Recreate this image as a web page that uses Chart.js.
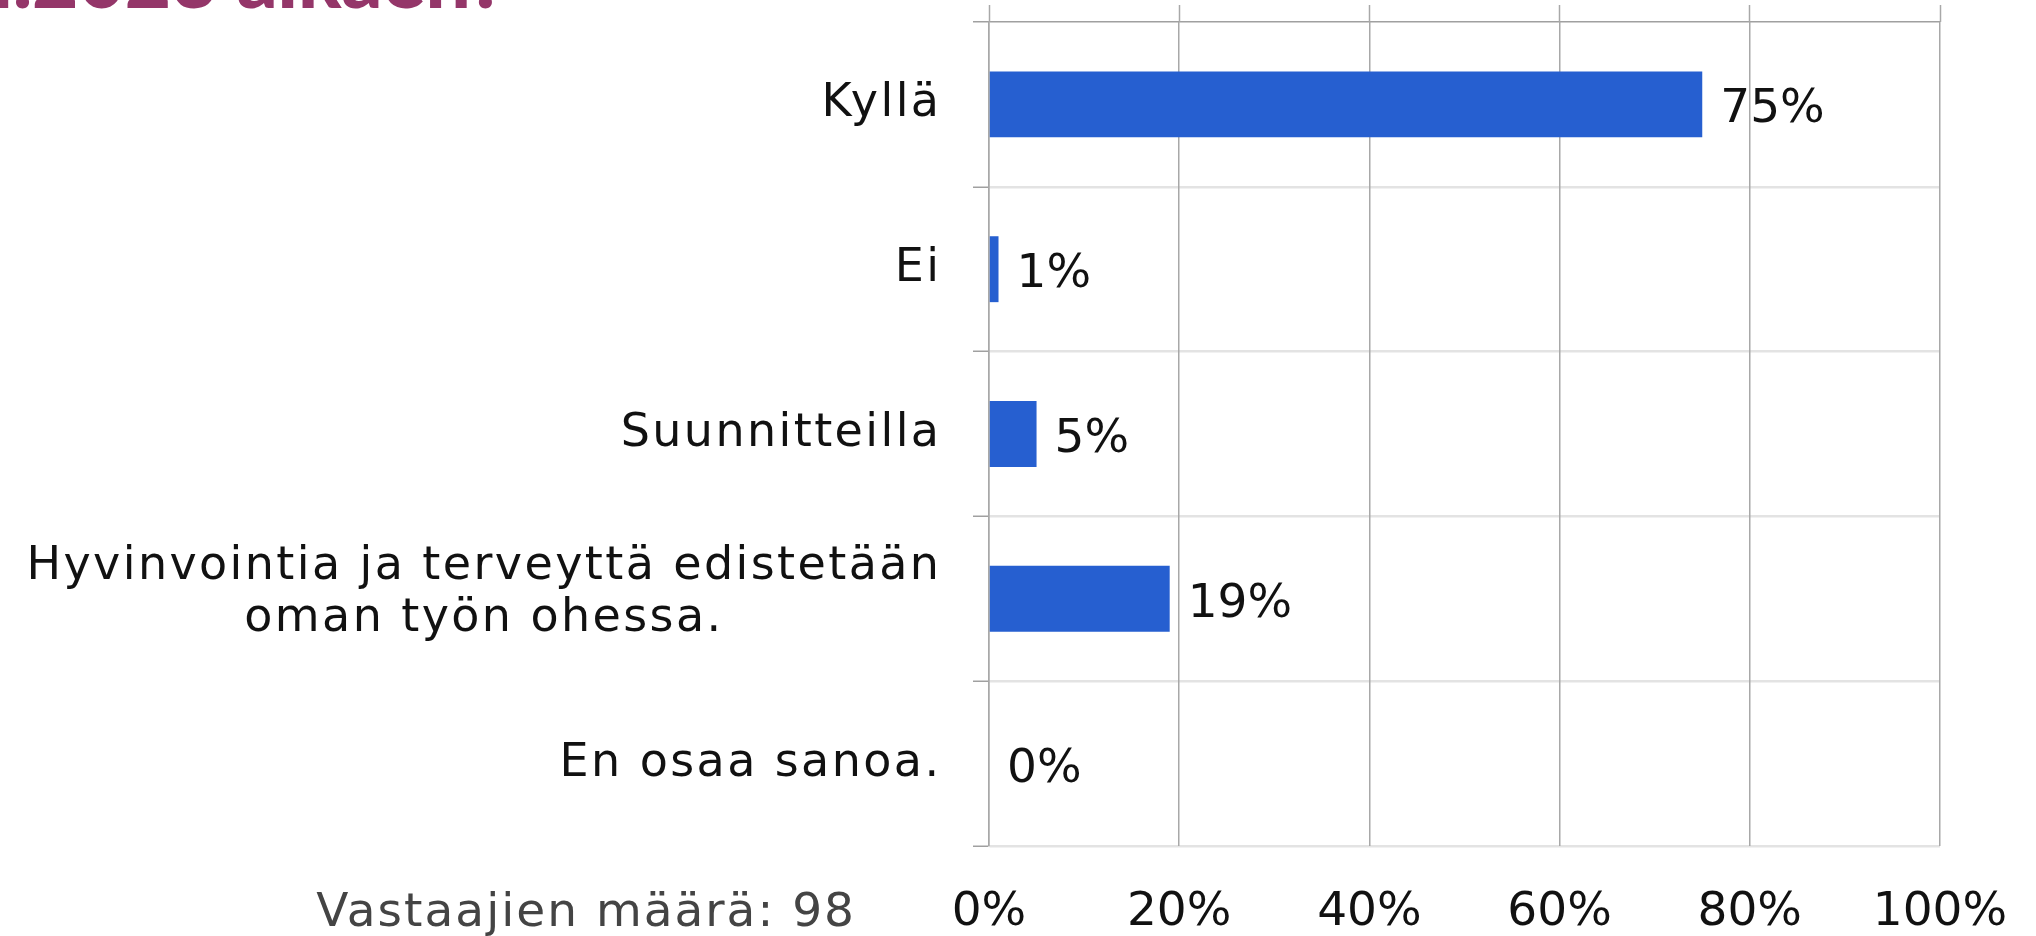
<!DOCTYPE html>
<html>
<head>
<meta charset="utf-8">
<script src="https://cdn.jsdelivr.net/npm/chart.js@4/dist/chart.umd.min.js"></script>
<style>
	body { margin: 0; background: #fff; overflow: hidden; }
	#wrap { position: relative; width: 2036px; height: 936px; overflow: hidden; }
	#title {
		position: absolute; right: 1530px; top: -63px; white-space: nowrap;
		font: 900 80px/80px Lato, sans-serif; color: #943669;
	}
	#note {
		position: absolute; right: 1180px; top: 886px; white-space: nowrap;
		font: 47px/47px "DejaVu Sans", sans-serif; letter-spacing: 2px; color: #444;
	}
</style>
</head>
<body>
<div id="wrap">
	<canvas id="chartContainer"></canvas>
	<div id="title">1.1.2023 alkaen?</div>
	<div id="note">Vastaajien määrä: 98</div>
</div>
<script>
var categories = ["Kyllä", "Ei", "Suunnitteilla", ["Hyvinvointia ja terveyttä edistetään", "oman työn ohessa."], "En osaa sanoa."];
var values = [75, 1, 5, 19, 0];
var xTicks = [0, 20, 40, 60, 80, 100];

var font = "'DejaVu Sans', sans-serif";

// category names on the left, multi-line ones centered on their widest line
const categoryLabels = {
	id: "categoryLabels",
	afterDraw(chart) {
		const ctx = chart.ctx;
		const y = chart.scales.y;
		const sp = 2.4;
		const right = chart.chartArea.left - 50 + sp;
		ctx.save();
		ctx.letterSpacing = sp + "px";
		ctx.font = "46px " + font;
		ctx.fillStyle = "#111";
		ctx.textBaseline = "alphabetic";
		categories.forEach((label, i) => {
			const cy = y.getPixelForTick(i);
			if (Array.isArray(label)) {
				const w = Math.max(...label.map((l) => ctx.measureText(l).width));
				ctx.textAlign = "center";
				label.forEach((l, j) => ctx.fillText(l, right - w / 2, cy - 20 + j * 52));
			} else {
				ctx.textAlign = "right";
				ctx.fillText(label, right, cy + 12);
			}
		});
		ctx.restore();
	},
};

// percentages at the end of each bar
const valueLabels = {
	id: "valueLabels",
	afterDatasetsDraw(chart) {
		const ctx = chart.ctx;
		ctx.save();
		ctx.font = "47px " + font;
		ctx.fillStyle = "#111";
		ctx.textAlign = "left";
		ctx.textBaseline = "alphabetic";
		chart.getDatasetMeta(0).data.forEach((bar, i) => {
			ctx.fillText(values[i] + "%", bar.x + 18, bar.y + 18);
		});
		ctx.restore();
	},
};

new Chart(document.getElementById("chartContainer"), {
	type: "bar",
	data: {
		labels: categories,
		datasets: [
			{
				data: values,
				backgroundColor: "#265fd0",
				borderWidth: 0,
				categoryPercentage: 1,
				barPercentage: 0.4,
			},
		],
	},
	options: {
		indexAxis: "y",
		responsive: true,
		maintainAspectRatio: false,
		animation: false,
		layout: { padding: { top: 5, right: 96, left: 0, bottom: 0 } },
		plugins: { legend: { display: false }, tooltip: { enabled: false } },
		scales: {
			y: {
				ticks: { display: false },
				grid: {
					offset: true,
					color: (c) => (c.index === 0 ? "#a0a0a0" : "#e3e3e3"),
					lineWidth: (c) => (c.index === 0 ? 1.5 : 2.5),
					tickLength: 16,
					tickColor: "#a0a0a0",
					tickWidth: 1.5,
				},
				border: { display: true, color: "#a8a8a8", width: 1.5 },
				afterFit: (scale) => {
					scale.width = 989;
				},
			},
			x: {
				position: "bottom",
				min: 0,
				max: 100,
				afterBuildTicks: (scale) => {
					scale.ticks = xTicks.map((v) => ({ value: v }));
				},
				ticks: {
					callback: (v) => v + "%",
					font: { family: font, size: 47 },
					color: "#111",
					padding: 39,
					maxRotation: 0,
				},
				grid: { color: "#a8a8a8", lineWidth: 1.5, drawTicks: false },
				border: { display: false },
				afterFit: (scale) => {
					scale.height = 90;
					// the last label may hang past the plot, like in the original
					scale.paddingLeft = 0;
					scale.paddingRight = 0;
				},
			},
			xTop: {
				position: "top",
				min: 0,
				max: 100,
				afterBuildTicks: (scale) => {
					scale.ticks = xTicks.map((v) => ({ value: v }));
				},
				ticks: { display: false },
				grid: { drawOnChartArea: false, tickLength: 17, tickColor: "#a8a8a8", tickWidth: 1.5 },
				border: { display: false },
				afterFit: (scale) => {
					scale.height = 17;
					scale.paddingLeft = 0;
					scale.paddingRight = 0;
				},
			},
		},
	},
	plugins: [categoryLabels, valueLabels],
});
</script>
</body>
</html>
